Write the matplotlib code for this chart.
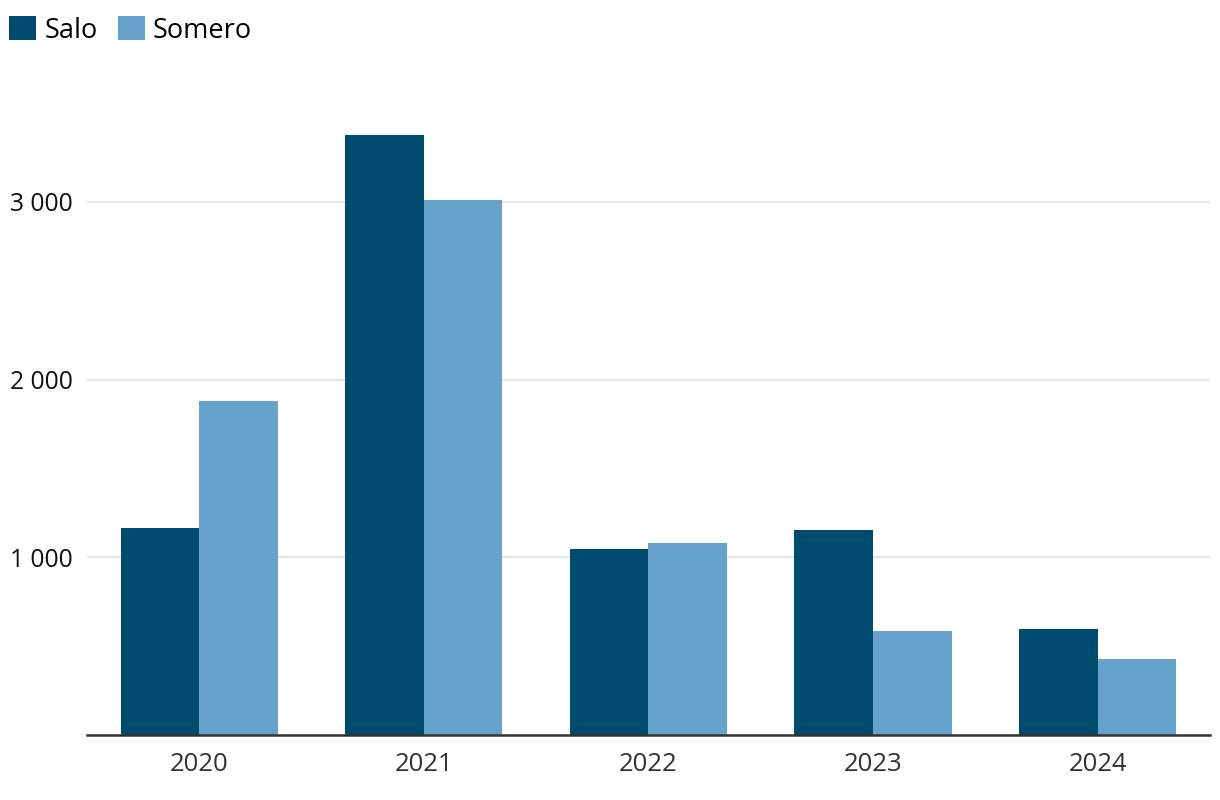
import numpy as np
import matplotlib.pyplot as plt
from matplotlib.ticker import FuncFormatter

years = ['2020', '2021', '2022', '2023', '2024']
salo = [1165, 3375, 1047, 1155, 597]
somero = [1880, 3008, 1080, 585, 428]

salo_color = '#004c70'
somero_color = '#67a2cd'

plt.rcParams['font.family'] = ['Open Sans', 'DejaVu Sans']

fig = plt.figure(figsize=(12.2, 8), dpi=100)
ax = fig.add_axes([0.0713, 0.08125, 0.9205, 0.822])

x = np.arange(len(years))
w = 0.35
ax.bar(x - w / 2, salo, w, color=salo_color, label='Salo', zorder=3)
ax.bar(x + w / 2, somero, w, color=somero_color, label='Somero', zorder=3)

ax.set_xlim(-0.5, len(years) - 0.5)
ax.set_ylim(0, 3700)
ax.set_xticks(x)
ax.set_xticklabels(years)
ax.set_yticks([1000, 2000, 3000])
ax.yaxis.set_major_formatter(FuncFormatter(lambda v, p: f'{int(v):,}'.replace(',', ' ')))

ax.grid(axis='y', color='#e0e0e0', linewidth=1.2, zorder=0)
for s in ['top', 'right', 'left']:
    ax.spines[s].set_visible(False)
ax.spines['bottom'].set_color('#333333')
ax.spines['bottom'].set_linewidth(1.8)
ax.spines['bottom'].set_zorder(4)
ax.tick_params(axis='x', length=0, labelsize=18.5, colors='#333333', pad=12)
ax.tick_params(axis='y', length=0, labelsize=17.7, colors='#111111', pad=10)

fig.legend(loc='upper left', bbox_to_anchor=(-0.006, 1.0), ncol=2, frameon=False,
           fontsize=19.5, handlelength=1.0, handleheight=1.0, handletextpad=0.3,
           columnspacing=0.75, borderaxespad=0.2, borderpad=0.4)

fig.savefig('out.png', dpi=100)
